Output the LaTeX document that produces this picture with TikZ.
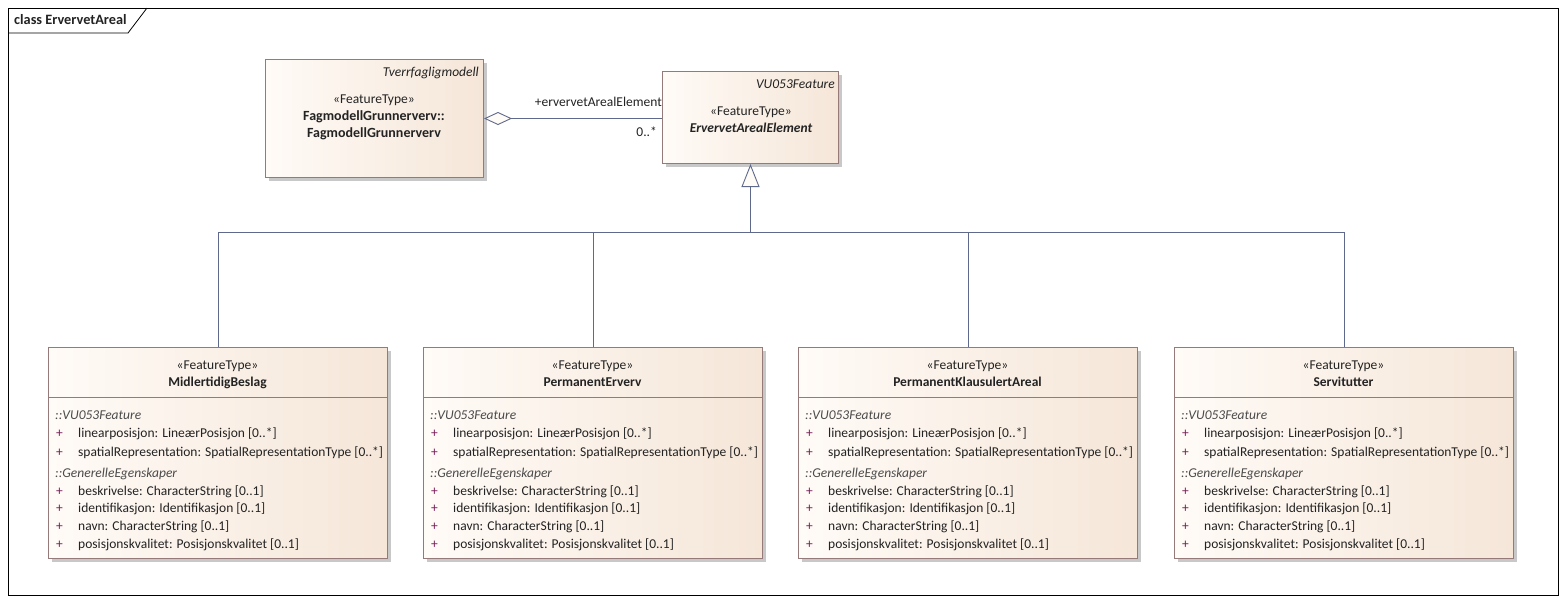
\documentclass[tikz,border=0pt]{standalone}
\usepackage{fontspec}
\setmainfont{Carlito}
\usetikzlibrary{arrows.meta, shadows}

\definecolor{clsLight}{RGB}{255,251,247}
\definecolor{clsDark}{RGB}{245,230,216}
\definecolor{clsBorder}{RGB}{150,122,122}
\definecolor{clsShadow}{RGB}{200,200,200}
\definecolor{clsText}{RGB}{35,35,35}
\definecolor{clsGroup}{RGB}{75,75,75}
\definecolor{linkCol}{RGB}{95,105,140}
\definecolor{plusCol}{RGB}{120,30,90}

\begin{document}
\begin{tikzpicture}[x=1pt, y=-1pt,
  cls/.style={draw=clsBorder, line width=1pt, left color=clsLight,
              right color=clsDark, anchor=north west, inner sep=0pt,
              drop shadow={shadow xshift=3pt, shadow yshift=-3pt,
                           fill=clsShadow, opacity=1}},
  txt/.style={font=\fontsize{13.5}{16}\selectfont, text=clsText,
              inner sep=0pt},
  lt/.style={txt, anchor=base west},
  rt/.style={txt, anchor=base east},
  ct/.style={txt, anchor=base},
  grp/.style={lt, text=clsGroup, font=\fontsize{13.5}{16}\selectfont\itshape},
  plus/.style={lt, text=plusCol},
  assoc/.style={draw=linkCol, line width=0.9pt}
]
\useasboundingbox[fill=white] (0,0) rectangle (1567,603);

% Diagram frame with its name tab
\draw[line width=0.8pt] (8,8) rectangle (1558,595);
\draw[line width=0.8pt] (8,33) -- (128,33) -- (147,8);
\node[lt, font=\fontsize{14.3}{17}\selectfont\bfseries] (title) at (14,24.5)
  {class ErvervetAreal};

% Aggregating class from the other package
\node[cls, minimum width=218pt, minimum height=118pt] (fag) at (265,59) {};
\node[rt, font=\fontsize{13.5}{16}\selectfont\itshape] (fag-pkg) at (479,76)
  {Tverrfagligmodell};
\node[ct] (fag-st) at (374,103) {«FeatureType»};
\node[ct, font=\fontsize{14}{16}\selectfont\bfseries] (fag-n1) at (374,120)
  {FagmodellGrunnerverv::};
\node[ct, font=\fontsize{14}{16}\selectfont\bfseries] (fag-n2) at (374,137)
  {FagmodellGrunnerverv};

% Abstract supertype
\node[cls, minimum width=176pt, minimum height=92pt] (erv) at (662,71) {};
\node[rt, font=\fontsize{13.5}{16}\selectfont\itshape] (erv-pkg) at (835,88)
  {VU053Feature};
\node[ct] (erv-st) at (751,115) {«FeatureType»};
\node[ct, font=\fontsize{13.5}{16}\selectfont\bfseries\itshape] (erv-n) at (751,132)
  {ErvervetArealElement};

% Aggregation
\draw[assoc, {Diamond[length=28pt, width=13pt, fill=clsLight]}-]
  (fag.east) -- (fag.east -| erv.west);
\node[rt] (role) at (662,106) {+ervervetArealElement};
\node[rt] (mult) at (657,136) {0..*};

% Four subtypes
\foreach \i/\x/\name in {1/48/MidlertidigBeslag, 2/423/PermanentErverv,
    3/798/PermanentKlausulertAreal, 4/1174/Servitutter} {
  \node[cls, minimum width=339pt, minimum height=211pt] (b\i) at (\x,347) {};
  \draw[draw=clsBorder, line width=1pt] (\x,397) -- (\x+339,397);
  \node[ct] (b\i-st) at (\x+169.5,369) {«FeatureType»};
  \node[ct, font=\fontsize{13.5}{16}\selectfont\bfseries] (b\i-n) at (\x+169.5,386)
    {\name};
  \node[grp] (b\i-g1) at (\x+7,419) {::VU053Feature};
  \node[grp] (b\i-g2) at (\x+7,477) {::GenerelleEgenskaper};
  \foreach \y/\t [count=\j] in {437/linearposisjon: LineærPosisjon [0..*],
      456/spatialRepresentation: SpatialRepresentationType [0..*],
      495/beskrivelse: CharacterString [0..1],
      512/identifikasjon: Identifikasjon [0..1],
      530/navn: CharacterString [0..1],
      548/posisjonskvalitet: Posisjonskvalitet [0..1]} {
    \node[plus] (b\i-p\j) at (\x+8,\y) {+};
    \node[lt] (b\i-a\j) at (\x+30,\y) {\t};
  }
}

% Generalization
\coordinate (join) at (erv.south |- 0,232);
\draw[assoc, -{Triangle[length=23pt, width=18pt, fill=clsLight]}]
  (join) -- (erv.south);
\foreach \i in {1,...,4}
  \draw[assoc] (b\i.north) |- (join);
\end{tikzpicture}
\end{document}
